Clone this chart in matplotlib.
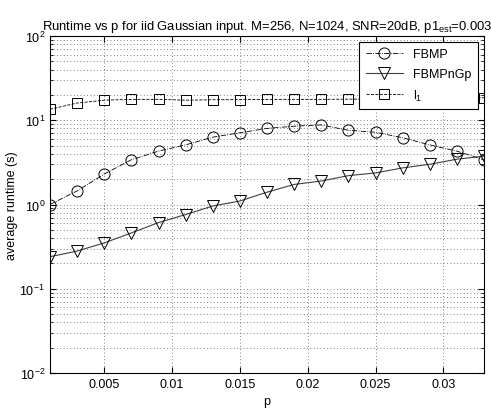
import numpy as np
import matplotlib
matplotlib.use('Agg')
import matplotlib.pyplot as plt
from matplotlib.ticker import LogLocator, NullFormatter

plt.rcParams['font.family'] = ['Liberation Sans', 'DejaVu Sans']
plt.rcParams['mathtext.fontset'] = 'custom'
plt.rcParams['mathtext.rm'] = 'Liberation Sans'
plt.rcParams['mathtext.it'] = 'Liberation Sans'

# data
p = [0.001, 0.003, 0.005, 0.007, 0.009, 0.011, 0.013, 0.015, 0.017,
     0.019, 0.021, 0.023, 0.025, 0.027, 0.029, 0.031, 0.033]
fbmp = [1.0, 1.45, 2.3, 3.4, 4.3, 5.1, 6.3, 7.1, 8.0,
        8.5, 8.8, 7.6, 7.2, 6.2, 5.1, 4.3, 3.4]
fbmpngp = [0.24, 0.28, 0.35, 0.46, 0.61, 0.76, 0.96, 1.1, 1.4,
           1.73, 1.9, 2.2, 2.37, 2.72, 3.0, 3.45, 3.75]
l1 = [13.5, 16.0, 17.3, 17.7, 17.7, 17.3, 17.5, 17.6, 17.7,
      17.7, 17.7, 17.8, 17.8, 18.0, 18.2, 18.4, 18.5]

xticks = [0.005, 0.01, 0.015, 0.02, 0.025, 0.03]
xticklabels = ['0.005', '0.01', '0.015', '0.02', '0.025', '0.03']

fig = plt.figure(figsize=(4.91, 4.10), dpi=100, facecolor='white')
ax = fig.add_axes([50/491, 36/410, 434/491, 337/410])

ax.plot(p, fbmp, color='black', ls='-.', lw=0.6, marker='o', ms=8,
        mfc='none', mec='black', mew=0.7, label='FBMP')
ax.plot(p, fbmpngp, color='0.25', ls='-', lw=0.8, marker='v', ms=8.5,
        mfc='none', mec='black', mew=0.7, label='FBMPnGp')
ax.plot(p, l1, color='black', ls='--', lw=0.6, marker='s', ms=7,
        mfc='none', mec='black', mew=0.7, label='l$_1$')

ax.set_yscale('log')
ax.set_ylim(1e-2, 1e2)
ax.set_xlim(0.001, 0.033)
ax.set_xticks(xticks)
ax.set_xticklabels(xticklabels)
ax.yaxis.set_minor_locator(LogLocator(base=10, subs=np.arange(2, 10)))
ax.yaxis.set_minor_formatter(NullFormatter())

# sparse dotted grid, MATLAB style
ax.grid(True, which='major', ls=(0, (1, 3)), color='0.35', lw=0.6)
ax.grid(True, which='minor', axis='y', ls=(0, (1, 3)), color='0.35', lw=0.6)
ax.tick_params(which='both', direction='in', top=True, right=True,
               labelsize=9, colors='black')
ax.tick_params(which='major', length=4)
ax.tick_params(which='minor', length=2)
for s in ax.spines.values():
    s.set_linewidth(0.8)

ax.set_xlabel('p', fontsize=9)
ax.set_ylabel('average runtime (s)', fontsize=9, labelpad=1)
ax.set_title('Runtime vs p for iid Gaussian input. M=256, N=1024, SNR=20dB, p1$_{est}$=0.003',
             fontsize=9.4, pad=5)

leg = ax.legend(loc='upper right', fontsize=9, fancybox=False, framealpha=1,
                edgecolor='black', borderaxespad=0.5, handlelength=3,
                labelspacing=0.6, borderpad=0.5)
leg.get_frame().set_linewidth(0.8)

fig.savefig('out.png', dpi=100)
